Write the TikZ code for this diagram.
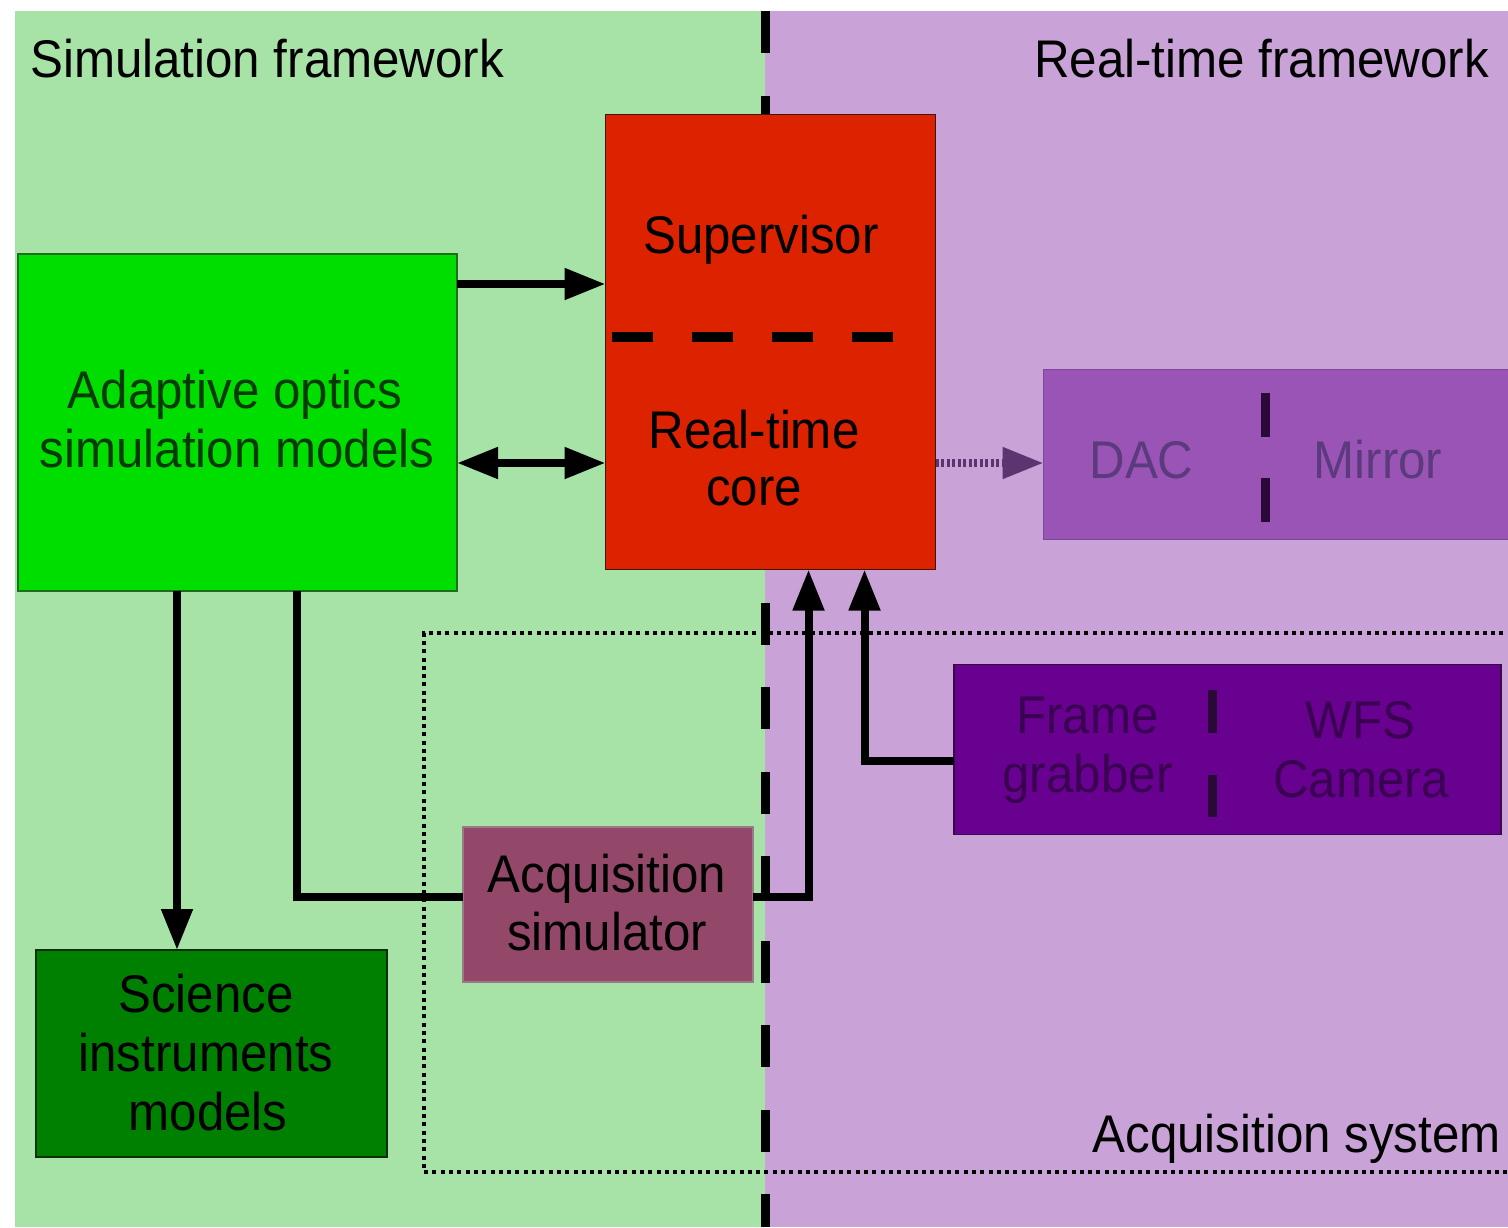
\documentclass[tikz,border=0pt]{standalone}
\usepackage{fontspec}
\setmainfont[FakeStretch=0.93]{Liberation Sans}
\usetikzlibrary{arrows.meta}

\definecolor{simbg}{HTML}{A7E3A7}
\definecolor{rtbg}{HTML}{C9A3D7}
\definecolor{aobox}{HTML}{00DE00}
\definecolor{aoedge}{HTML}{1E6E1E}
\definecolor{aotext}{HTML}{053A05}
\definecolor{corebox}{HTML}{DD2200}
\definecolor{coreedge}{HTML}{40160C}
\definecolor{dacbox}{HTML}{9A54B6}
\definecolor{dacedge}{HTML}{7A4896}
\definecolor{dactext}{HTML}{5C3A7E}
\definecolor{fgbox}{HTML}{680090}
\definecolor{fgedge}{HTML}{3A0A4A}
\definecolor{fgtext}{HTML}{3A0052}
\definecolor{acqbox}{HTML}{944869}
\definecolor{acqedge}{HTML}{9A7A88}
\definecolor{scibox}{HTML}{008000}
\definecolor{sciedge}{HTML}{0C300C}
\definecolor{sepcol}{HTML}{2A0838}
\definecolor{dotarrow}{HTML}{5C3470}

\tikzset{
  box/.style={anchor=north west, inner sep=0pt, outer sep=0pt, line width=1.6pt},
  txt/.style={anchor=base, inner sep=0pt, outer sep=0pt},
  conn/.style={line width=8pt},
  arr/.style={conn, -{Triangle[length=41pt,width=30pt]}},
  darr/.style={conn, {Triangle[length=41pt,width=30pt]}-{Triangle[length=41pt,width=30pt]}},
  dotarr/.style={dotarrow, line width=8pt, dash pattern=on 3pt off 2.5pt,
                 -{Triangle[length=41pt,width=30pt]}},
  border/.style={line width=9pt, dash pattern=on 42pt off 42.5pt},
  splitmark/.style={sepcol, line width=9pt},
  region/.style={line width=3.2pt, dash pattern=on 4pt off 4.3pt},
}

\begin{document}
\begin{tikzpicture}[x=1pt, y=-1pt, font=\fontsize{53}{58}\selectfont]
\useasboundingbox (0,0) rectangle (1508,1227);
\clip (0,0) rectangle (1508,1227);
\fill[white] (0,0) rectangle (1508,1227);

% the two frameworks
\fill[simbg] (15,11) rectangle (765,1227);
\fill[rtbg] (765,11) rectangle (1508,1227);
\draw[border] (765,11) -- (765,1227);

% acquisition system outline
\draw[region] (1520,633) -- (424,633) -- (424,1172) -- (1520,1172);
\node[anchor=base east, inner sep=0pt] (acqsys) at (1501,1152) {Acquisition system};

\node[anchor=base west, inner sep=0pt] (simlbl) at (30,77) {Simulation framework};
\node[anchor=base east, inner sep=0pt] (rtlbl) at (1489,77) {Real-time framework};

% supervisor / real-time core
\node[box, draw=coreedge, fill=corebox, minimum width=330pt, minimum height=455pt] (rtc) at (605.5,114.5) {};
\draw[line width=10pt, dash pattern=on 41pt off 39pt] (612,337) -- (893,337);
\node[txt] (suptxt) at (761,253) {Supervisor};
\node[txt] (coretxta) at (754,448) {Real-time};
\node[txt] (coretxtb) at (754,505) {core};

% adaptive optics models
\node[box, draw=aoedge, fill=aobox, minimum width=439pt, minimum height=337pt] (ao) at (18,254) {};
\node[txt, text=aotext] (aotxta) at (235,408) {Adaptive optics};
\node[txt, text=aotext] (aotxtb) at (237,467) {simulation models};

% DAC / mirror
\node[box, draw=dacedge, fill=dacbox, minimum width=480pt, minimum height=170pt] (dac) at (1043.5,369.5) {};
\draw[splitmark] (1265,393) -- (1265,437);
\draw[splitmark] (1265,478) -- (1265,522);
\node[txt, text=dactext] (dactxt) at (1141.5,478) {DAC};
\node[txt, text=dactext] (mirtxt) at (1378,478) {Mirror};

% frame grabber / WFS camera
\node[box, draw=fgedge, fill=fgbox, minimum width=547pt, minimum height=170pt] (fg) at (954,664.5) {};
\draw[splitmark] (1212,690) -- (1212,733);
\draw[splitmark] (1212,775) -- (1212,817);
\node[txt, text=fgtext] (fgtxta) at (1087.5,733) {Frame};
\node[txt, text=fgtext] (fgtxtb) at (1087.5,792) {grabber};
\node[txt, text=fgtext] (wfstxta) at (1360.5,738) {WFS};
\node[txt, text=fgtext] (wfstxtb) at (1361,797) {Camera};

% acquisition simulator
\node[box, draw=acqedge, fill=acqbox, minimum width=290pt, minimum height=155pt] (acq) at (463,827) {};
\node[txt] (acqtxta) at (607,892) {Acquisition};
\node[txt] (acqtxtb) at (607,950) {simulator};

% science instruments
\node[box, draw=sciedge, fill=scibox, minimum width=351pt, minimum height=207pt] (sci) at (36,950) {};
\node[txt] (scitxta) at (206,1012) {Science};
\node[txt] (scitxtb) at (206,1071) {instruments};
\node[txt] (scitxtc) at (208,1130) {models};

% connection points
\coordinate (aoA) at ([yshift=-30pt]ao.north east);
\coordinate (aoB) at ([yshift=-209pt]ao.north east);
\coordinate (aoS1) at ([xshift=-60.5pt]ao.south);
\coordinate (aoS2) at ([xshift=59.5pt]ao.south);
\coordinate (rtcS1) at ([xshift=38pt]rtc.south);
\coordinate (rtcS2) at ([xshift=94pt]rtc.south);
\coordinate (acqW) at ([yshift=7.5pt]acq.west);
\coordinate (acqE) at ([yshift=7.5pt]acq.east);
\coordinate (fgW) at ([yshift=-11pt]fg.west);

% connectors
\draw[arr] (aoA) -- (aoA -| rtc.west);
\draw[darr] (aoB) -- (aoB -| rtc.west);
\draw[dotarr] (aoB -| rtc.east) -- (aoB -| dac.west);
\draw[arr] (aoS1) -- (aoS1 |- sci.north);
\draw[conn] (aoS2) |- (acqW);
\draw[arr] (acqE) -| (rtcS1);
\draw[arr] (fgW) -| (rtcS2);
\end{tikzpicture}
\end{document}
